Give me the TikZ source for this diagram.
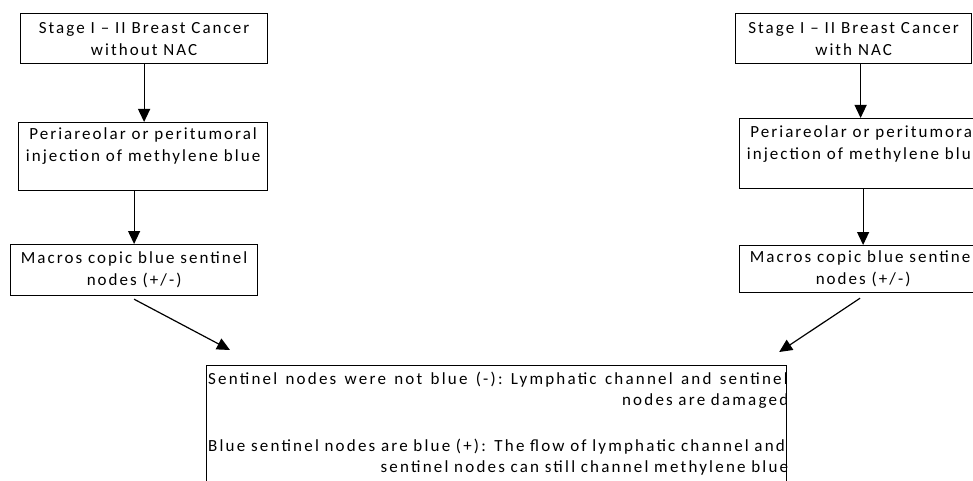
\documentclass[tikz,border=0pt]{standalone}
\usepackage{fontspec}
\setmainfont{Carlito}
\newfontfamily\boxfont{Carlito}[LetterSpace=12]
\newfontfamily\resfont{Carlito}[LetterSpace=13]
\usepackage{tikz}
\usetikzlibrary{arrows.meta}
\usetikzlibrary{positioning}

\newcommand{\boxlines}[4]{\parbox[c][#2][#3]{#1}{\centering #4}}
\newcommand{\jsp}{\hspace{4pt plus 1fil}}

\begin{document}
\begin{tikzpicture}[x=1pt, y=-1pt,
	stepbox/.style={draw, line width=1.2pt, inner sep=0pt, anchor=north west, font=\boxfont\fontsize{17}{22}\selectfont},
	resbox/.style={draw, line width=1.2pt, inner sep=0pt, anchor=north west, minimum width=580pt, minimum height=160pt},
	restxt/.style={inner sep=0pt, anchor=north west, text width=585pt, font=\resfont\fontsize{17}{21}\selectfont},
	arr/.style={line width=1.2pt, -{Triangle[length=13pt, width=12pt]}}]
	\useasboundingbox (0,0) rectangle (973,481);
	\clip (0,0) rectangle (973,481);
	% without NAC
	\node[stepbox] (stage) at (20,13) {\boxlines{247pt}{50pt}{c}{Stage I – II Breast Cancer\\without NAC}};
	\node[stepbox] (inj) at (18,122) {\boxlines{249pt}{68pt}{t}{\vspace*{5pt}Periareolar or peritumoral\\injection of methylene blue}};
	\node[stepbox] (mac) at (10,244) {\boxlines{247pt}{51pt}{c}{Macros copic blue sentinel\\nodes (+/-)}};
	% with NAC
	\node[stepbox] (rstage) at (735,13) {\boxlines{236pt}{50pt}{c}{Stage I – II Breast Cancer\\with NAC}};
	\node[stepbox] (rinj) at (739,118) {\boxlines{249pt}{70pt}{t}{\vspace*{7pt}Periareolar or peritumoral\\injection of methylene blue}};
	\node[stepbox] (rmac) at (739,245) {\boxlines{247pt}{47pt}{c}{Macros copic blue sentinel\\nodes (+/-)}};
	% result
	\node[resbox] (res) at (206,365) {};
	\begin{scope}
		\clip (res.north west) rectangle (res.south east);
		\node[restxt] (findings) at ([xshift=2pt, yshift=-7pt]res.north west) {%
			\makebox[584pt][l]{Sentinel\jsp nodes\jsp were\jsp not\jsp blue\jsp (-):\jsp Lymphatic\jsp channel\jsp and\jsp sentinel}\\
			\makebox[580pt][r]{nodes are damaged}\\[25pt]
			\makebox[580pt][l]{Blue sentinel nodes are blue (+): The flow of lymphatic channel and}\\
			\makebox[580pt][r]{sentinel nodes can still channel methylene blue}};
	\end{scope}
	\draw[arr] (stage.south) -- (stage.south |- inj.north);
	\draw[arr] (inj.south -| mac.north) -- (mac.north);
	\draw[arr] ([yshift=-3pt]mac.south) -- ([xshift=24pt, yshift=15pt]res.north west);
	\draw[arr] ([xshift=7pt]rstage.south) -- ([xshift=7pt]rstage.south |- rinj.north);
	\draw[arr] (rinj.south -| rmac.north) -- (rmac.north);
	\draw[arr] ([xshift=-3pt, yshift=-5pt]rmac.south) -- ([xshift=-8pt, yshift=13pt]res.north east);
\end{tikzpicture}
\end{document}
